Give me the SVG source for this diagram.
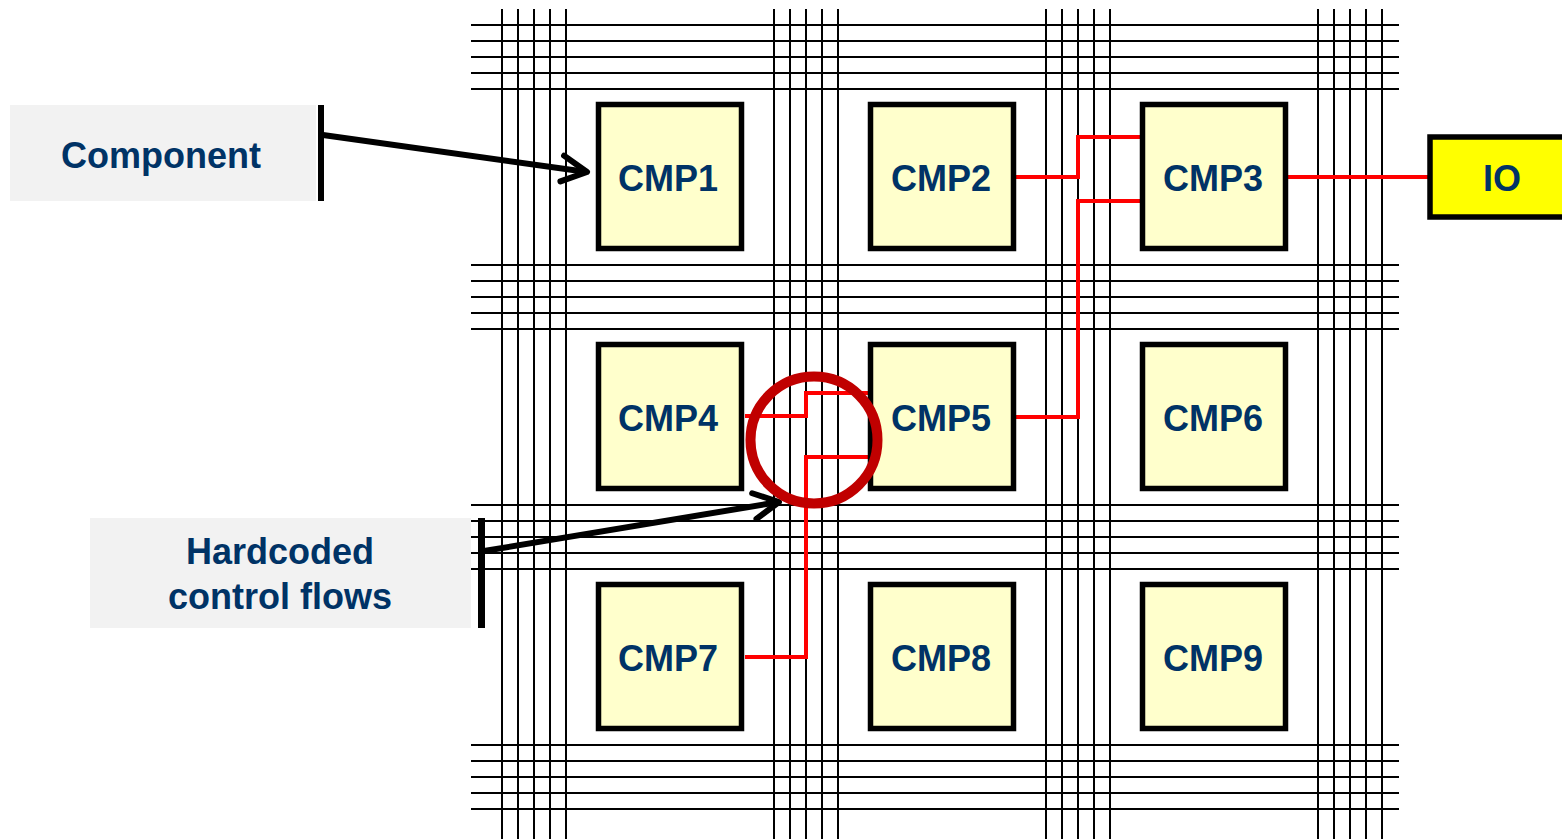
<svg xmlns="http://www.w3.org/2000/svg" width="1562" height="839" viewBox="0 0 1562 839">
<style>
.grid line{stroke:#000;stroke-width:2}
.cmp rect{fill:#FFFFCC;stroke:#000;stroke-width:5.5}
.t{font-family:"Liberation Sans",Arial,sans-serif;font-weight:bold;font-size:36px;fill:#003366;text-anchor:middle}
.red{fill:none;stroke:#FF0000;stroke-width:4}
.arr{stroke:#000;stroke-width:6;fill:none}
.lbl{fill:#F2F2F2}
</style>
<defs>
<marker id="chev" markerUnits="userSpaceOnUse" markerWidth="44" markerHeight="44" viewBox="-36 -22 44 44" refX="0" refY="0" orient="auto">
<path d="M-25,-13 L0,0 L-25,13" fill="none" stroke="#000" stroke-width="6" stroke-linecap="round" stroke-linejoin="round"/>
</marker>
</defs>
<rect width="1562" height="839" fill="#fff"/>
<g id="grid" class="grid">
<line x1="502" y1="9" x2="502" y2="839"/><line x1="518" y1="9" x2="518" y2="839"/><line x1="534" y1="9" x2="534" y2="839"/><line x1="550" y1="9" x2="550" y2="839"/><line x1="566" y1="9" x2="566" y2="839"/>
<line x1="774" y1="9" x2="774" y2="839"/><line x1="790" y1="9" x2="790" y2="839"/><line x1="806" y1="9" x2="806" y2="839"/><line x1="822" y1="9" x2="822" y2="839"/><line x1="838" y1="9" x2="838" y2="839"/>
<line x1="1046" y1="9" x2="1046" y2="839"/><line x1="1062" y1="9" x2="1062" y2="839"/><line x1="1078" y1="9" x2="1078" y2="839"/><line x1="1094" y1="9" x2="1094" y2="839"/><line x1="1110" y1="9" x2="1110" y2="839"/>
<line x1="1318" y1="9" x2="1318" y2="839"/><line x1="1334" y1="9" x2="1334" y2="839"/><line x1="1350" y1="9" x2="1350" y2="839"/><line x1="1366" y1="9" x2="1366" y2="839"/><line x1="1382" y1="9" x2="1382" y2="839"/>
<line x1="471" y1="25" x2="1399" y2="25"/><line x1="471" y1="41" x2="1399" y2="41"/><line x1="471" y1="57" x2="1399" y2="57"/><line x1="471" y1="73" x2="1399" y2="73"/><line x1="471" y1="89" x2="1399" y2="89"/>
<line x1="471" y1="265" x2="1399" y2="265"/><line x1="471" y1="281" x2="1399" y2="281"/><line x1="471" y1="297" x2="1399" y2="297"/><line x1="471" y1="313" x2="1399" y2="313"/><line x1="471" y1="329" x2="1399" y2="329"/>
<line x1="471" y1="505" x2="1399" y2="505"/><line x1="471" y1="521" x2="1399" y2="521"/><line x1="471" y1="537" x2="1399" y2="537"/><line x1="471" y1="553" x2="1399" y2="553"/><line x1="471" y1="569" x2="1399" y2="569"/>
<line x1="471" y1="745" x2="1399" y2="745"/><line x1="471" y1="761" x2="1399" y2="761"/><line x1="471" y1="777" x2="1399" y2="777"/><line x1="471" y1="793" x2="1399" y2="793"/><line x1="471" y1="809" x2="1399" y2="809"/>
</g>
<g id="connectors">
<path class="red" d="M1016,177 H1078 V137 H1141"/>
<path class="red" d="M1141,201 H1078 V417 H1016"/>
<path class="red" d="M1288,177 H1430"/>
<path class="red" d="M745,416 H806 V393 H869"/>
<path class="red" d="M745,657 H806 V457 H869"/>
<line class="arr" x1="323" y1="135" x2="587" y2="172" marker-end="url(#chev)"/>
<line class="arr" x1="484" y1="551" x2="779" y2="502" marker-end="url(#chev)"/>
</g>
<g id="CMP1" class="cmp"><rect x="598.5" y="104.5" width="143" height="144"/><text class="t" x="668" y="191">CMP1</text></g>
<g id="CMP2" class="cmp"><rect x="870.5" y="104.5" width="143" height="144"/><text class="t" x="941" y="191">CMP2</text></g>
<g id="CMP3" class="cmp"><rect x="1142.5" y="104.5" width="143" height="144"/><text class="t" x="1213" y="191">CMP3</text></g>
<g id="CMP4" class="cmp"><rect x="598.5" y="344.5" width="143" height="144"/><text class="t" x="668" y="431">CMP4</text></g>
<g id="CMP5" class="cmp"><rect x="870.5" y="344.5" width="143" height="144"/><text class="t" x="941" y="431">CMP5</text></g>
<g id="CMP6" class="cmp"><rect x="1142.5" y="344.5" width="143" height="144"/><text class="t" x="1213" y="431">CMP6</text></g>
<g id="CMP7" class="cmp"><rect x="598.5" y="584.5" width="143" height="144"/><text class="t" x="668" y="671">CMP7</text></g>
<g id="CMP8" class="cmp"><rect x="870.5" y="584.5" width="143" height="144"/><text class="t" x="941" y="671">CMP8</text></g>
<g id="CMP9" class="cmp"><rect x="1142.5" y="584.5" width="143" height="144"/><text class="t" x="1213" y="671">CMP9</text></g>
<g id="IO"><rect x="1430" y="137" width="140" height="80" fill="#FFFF00" stroke="#000" stroke-width="5.5"/><text class="t" x="1502" y="191">IO</text></g>
<g id="highlight"><circle cx="814" cy="440" r="63.5" fill="none" stroke="#C00000" stroke-width="10"/></g>
<g id="label-component"><rect class="lbl" x="10" y="105" width="306" height="96"/><rect x="318" y="105" width="6" height="96" fill="#000"/><text class="t" x="161" y="168">Component</text></g>
<g id="label-hardcoded"><rect class="lbl" x="90" y="518" width="381" height="110"/><rect x="478" y="518" width="7" height="110" fill="#000"/><text class="t" x="280" y="564">Hardcoded</text><text class="t" x="280" y="609">control flows</text></g>
</svg>
